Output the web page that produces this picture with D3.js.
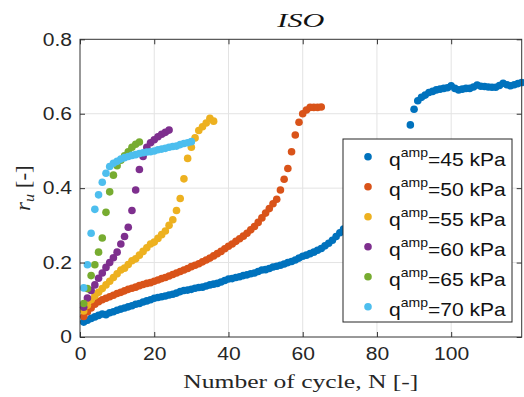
<!DOCTYPE html>
<html>
<head>
<meta charset="utf-8">
<script src="https://cdn.jsdelivr.net/npm/d3@7"></script>
<style>
  body { margin: 0; background: #fff; }
  svg { display: block; }
</style>
</head>
<body>
<script>
"use strict";

// Data: pore pressure ratio r_u, one value per cycle starting at N = 1

const ru45 = [
    0.040, 0.045, 0.050, 0.054, 0.058, 0.062, 0.060, 0.065, 0.068, 0.072,
    0.075, 0.078, 0.081, 0.084, 0.088, 0.090, 0.094, 0.097, 0.100, 0.104,
    0.106, 0.108, 0.110, 0.113, 0.115, 0.118, 0.122, 0.125, 0.126, 0.128,
    0.131, 0.133, 0.134, 0.137, 0.140, 0.142, 0.144, 0.148, 0.152, 0.156,
    0.157, 0.160, 0.162, 0.165, 0.167, 0.170, 0.172, 0.176, 0.180, 0.181,
    0.184, 0.188, 0.190, 0.193, 0.196, 0.200, 0.203, 0.207, 0.212, 0.217,
    0.220, 0.224, 0.228, 0.233, 0.238, 0.245, 0.252, 0.260, 0.270, 0.280,
    0.290, 0.300, 0.310, 0.320, 0.330, 0.340, 0.350, 0.360, 0.370, 0.380,
    0.390, 0.400, 0.410, 0.420, 0.440, 0.460, 0.480, 0.510,
    0.570, 0.612, 0.635, 0.644, 0.650, 0.657, 0.660, 0.664, 0.666, 0.668, 0.670, 0.675,
    0.668, 0.664, 0.666, 0.668, 0.668, 0.672, 0.677, 0.674, 0.673, 0.672,
    0.671, 0.671, 0.676, 0.682, 0.678, 0.675, 0.678, 0.681, 0.684
];
const ru50 = [
    0.055, 0.068, 0.078, 0.088, 0.095, 0.100, 0.104, 0.108, 0.112, 0.117,
    0.120, 0.124, 0.128, 0.131, 0.134, 0.138, 0.141, 0.144, 0.146, 0.150,
    0.153, 0.157, 0.160, 0.164, 0.168, 0.172, 0.176, 0.180, 0.184, 0.189,
    0.193, 0.197, 0.202, 0.207, 0.212, 0.218, 0.224, 0.230, 0.237, 0.244,
    0.250, 0.257, 0.264, 0.271, 0.279, 0.288, 0.297, 0.308, 0.320, 0.333,
    0.345, 0.358, 0.370, 0.395, 0.424, 0.453, 0.498, 0.543, 0.577, 0.600,
    0.610, 0.617, 0.617, 0.617, 0.618
];
const ru55 = [
    0.070, 0.085, 0.100, 0.110, 0.120, 0.130, 0.140, 0.150, 0.160, 0.170,
    0.180, 0.185, 0.195, 0.205, 0.210, 0.220, 0.230, 0.240, 0.250, 0.255,
    0.265, 0.275, 0.285, 0.300, 0.315, 0.340, 0.372, 0.425, 0.480, 0.510,
    0.535, 0.555, 0.565, 0.575, 0.588, 0.580
];
const ru60 = [
    0.080, 0.105, 0.125, 0.140, 0.158, 0.172, 0.187, 0.200, 0.213, 0.228,
    0.250, 0.270, 0.295, 0.340, 0.395, 0.450, 0.485, 0.510, 0.522, 0.530,
    0.538, 0.545, 0.550, 0.556
];
const ru65 = [
    0.090, 0.130, 0.165, 0.194, 0.228, 0.266, 0.335, 0.390, 0.435, 0.460,
    0.475, 0.487, 0.498, 0.510, 0.518, 0.524
];
const ru70 = [
    0.132, 0.194, 0.279, 0.343, 0.382, 0.416, 0.440, 0.458, 0.467, 0.472,
    0.478, 0.482, 0.485, 0.488, 0.490, 0.493, 0.495, 0.497, 0.498, 0.500,
    0.503, 0.505, 0.507, 0.510, 0.512, 0.513, 0.517, 0.520, 0.522, 0.525
];

const amplitudes = [45, 50, 55, 60, 65, 70];
const seriesValues = [ru45, ru50, ru55, ru60, ru65, ru70];
const colors = ['#0072BD', '#D95319', '#EDB120', '#7E2F8E', '#77AC30', '#4DBEEE'];

const xTicks = [0, 20, 40, 60, 80, 100];
const yTicks = [0, 0.2, 0.4, 0.6, 0.8];

// Size parameters

const width = 524;
const height = 397;
const plotL = 80, plotR = 521.7, plotT = 39.3, plotB = 337;
const markerR = 3.8;
const stretchK = 1.17;   // text in the figure is a bit wide

const sans = '"Liberation Sans", Arial, sans-serif';
const serif = '"Liberation Serif", "Times New Roman", serif';

const svg = d3.select('body')
    .append('svg')
    .attr('width', width)
    .attr('height', height);

const x = d3.scaleLinear().domain([0, 119]).range([plotL, plotR]);
const y = d3.scaleLinear().domain([0, 0.8]).range([plotB, plotT]);

// widen a text selection by the factor k
const stretch = (sel, k) => sel.each(function () {
    const w = this.getComputedTextLength();
    d3.select(this).attr('textLength', w * k).attr('lengthAdjust', 'spacingAndGlyphs');
});

/********
 * Grid *
 ********/

svg.append('g')
    .selectAll('line')
    .data(xTicks.slice(1))
    .enter()
    .append('line')
    .attr('x1', d => x(d)).attr('x2', d => x(d))
    .attr('y1', plotT).attr('y2', plotB)
    .attr('stroke', '#e3e3e3');

svg.append('g')
    .selectAll('line')
    .data(yTicks.slice(1, -1))
    .enter()
    .append('line')
    .attr('x1', plotL).attr('x2', plotR)
    .attr('y1', d => y(d)).attr('y2', d => y(d))
    .attr('stroke', '#e3e3e3');

/**********
 * Points *
 **********/

seriesValues.forEach((vals, s) => {
    svg.append('g')
        .selectAll('circle')
        .data(vals)
        .enter()
        .append('circle')
        .attr('cx', (d, i) => x(i + 1))
        .attr('cy', d => y(d))
        .attr('r', markerR)
        .attr('fill', colors[s]);
});

/********
 * Axes *
 ********/

const axisColor = '#333';

const styleAxis = g => {
    g.select('.domain').remove();
    g.selectAll('line').attr('stroke', axisColor);
    g.selectAll('text')
        .attr('font-family', sans)
        .attr('font-size', 18)
        .attr('fill', '#262626');
};

const gx = svg.append('g')
    .attr('transform', `translate(0,${plotB})`)
    .call(d3.axisBottom(x).tickValues(xTicks).tickSizeInner(-5).tickSizeOuter(0)
        .tickPadding(10).tickFormat(d3.format('d')))
    .call(styleAxis);
stretch(gx.selectAll('text'), stretchK);

const gy = svg.append('g')
    .attr('transform', `translate(${plotL},0)`)
    .call(d3.axisLeft(y).tickValues(yTicks).tickSizeInner(-5).tickSizeOuter(0)
        .tickPadding(8).tickFormat(d => d === 0 ? '0' : d3.format('.1f')(d)))
    .call(styleAxis);
stretch(gy.selectAll('text'), stretchK);

svg.append('g')
    .attr('transform', `translate(0,${plotT})`)
    .call(d3.axisTop(x).tickValues(xTicks).tickSizeInner(-5).tickSizeOuter(0).tickFormat(''))
    .call(styleAxis);

svg.append('g')
    .attr('transform', `translate(${plotR},0)`)
    .call(d3.axisRight(y).tickValues(yTicks).tickSizeInner(-5).tickSizeOuter(0).tickFormat(''))
    .call(styleAxis);

// box
svg.append('rect')
    .attr('x', plotL).attr('y', plotT)
    .attr('width', plotR - plotL).attr('height', plotB - plotT)
    .attr('fill', 'none')
    .attr('stroke', axisColor)
    .attr('stroke-width', 1);

/**********
 * Labels *
 **********/

svg.append('text')
    .attr('x', (plotL + plotR) / 2)
    .attr('y', 27)
    .attr('text-anchor', 'middle')
    .attr('font-family', serif)
    .attr('font-style', 'italic')
    .attr('font-size', 19)
    .attr('fill', '#111')
    .attr('textLength', 47)
    .attr('lengthAdjust', 'spacingAndGlyphs')
    .text('ISO');

svg.append('text')
    .attr('x', (plotL + plotR) / 2)
    .attr('y', 388)
    .attr('text-anchor', 'middle')
    .attr('font-family', serif)
    .attr('font-size', 18)
    .attr('fill', '#262626')
    .attr('textLength', 235)
    .attr('lengthAdjust', 'spacingAndGlyphs')
    .text('Number of cycle, N [-]');

const yLab = svg.append('text')
    .attr('transform', `translate(30,${(plotT + plotB) / 2}) rotate(-90)`)
    .attr('text-anchor', 'middle')
    .attr('font-family', serif)
    .attr('font-size', 20)
    .attr('fill', '#262626');
yLab.append('tspan').attr('font-style', 'italic').text('r');
yLab.append('tspan').attr('font-style', 'italic').attr('font-size', 14).attr('dy', 4).text('u');
yLab.append('tspan').attr('dy', -4).text('\u00a0[-]');
stretch(yLab, 1.15);

/**********
 * Legend *
 **********/

const legend = svg.append('g');
legend.append('rect')
    .attr('x', 343).attr('y', 139)
    .attr('width', 169).attr('height', 183)
    .attr('fill', '#fff')
    .attr('stroke', '#262626')
    .attr('stroke-width', 1);

const rows = legend.selectAll('.row')
    .data(amplitudes)
    .enter()
    .append('g')
    .classed('row', true)
    .attr('transform', (d, i) => `translate(0,${156.7 + i * 30})`);

rows.append('circle')
    .attr('cx', 368)
    .attr('cy', 0)
    .attr('r', markerR)
    .attr('fill', (d, i) => colors[i]);

const rowText = rows.append('text')
    .attr('transform', `translate(389,9) scale(${stretchK},1)`)
    .attr('font-family', sans)
    .attr('font-size', 18)
    .attr('fill', '#111');
rowText.append('tspan').text('q');
rowText.append('tspan').attr('font-size', 12).attr('dy', -9).text('amp');
rowText.append('tspan').attr('dy', 9).text(d => `=${d} kPa`);
</script>
</body>
</html>
